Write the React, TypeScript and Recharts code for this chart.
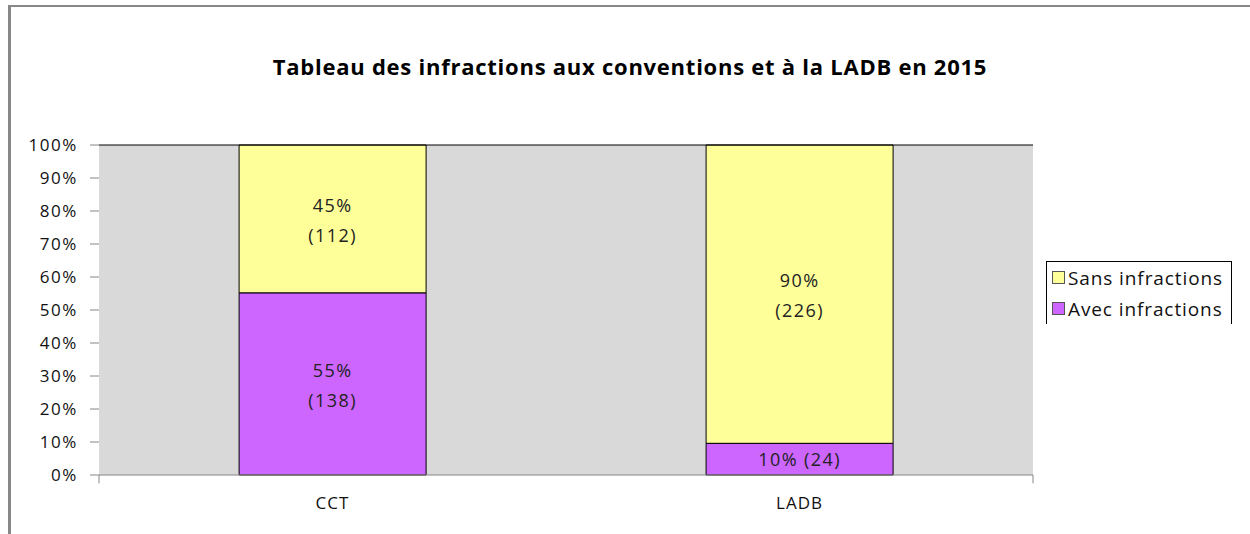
import React from "react";
import {
  BarChart,
  Bar,
  XAxis,
  YAxis,
  ReferenceArea,
  ReferenceLine,
  LabelList,
  Legend,
} from "recharts";

const title = "Tableau des infractions aux conventions et à la LADB en 2015";
const categories = ["CCT", "LADB"];
const avecInfractions = [138, 24];
const sansInfractions = [112, 226];
const yTicks = [0, 0.1, 0.2, 0.3, 0.4, 0.5, 0.6, 0.7, 0.8, 0.9, 1];
const boundaryTicks = [0, 1, 2];
const seriesNames = { sans: "Sans infractions", avec: "Avec infractions" };

const COLORS = { sans: "#FFFF99", avec: "#CC66FF", plot: "#D9D9D9", axis: "#868686" };
const FONT = "'Open Sans', sans-serif";

const data = categories.map((name, i) => ({
  name,
  avec: avecInfractions[i],
  sans: sansInfractions[i],
}));

const makeLabel = (values: number[]) => (props: any) => {
  const { x, y, width, height, index } = props;
  const v = values[index];
  const total = avecInfractions[index] + sansInfractions[index];
  const pct = Math.round((v / total) * 100);
  const cx = x + width / 2;
  const cy = y + height / 2;
  const style = { fontFamily: FONT, fontSize: 18, fill: "#222", letterSpacing: 1.4 };
  if (height < 40) {
    return (
      <text x={cx} y={cy} textAnchor="middle" dominantBaseline="central" style={style}>
        {`${pct}% (${v})`}
      </text>
    );
  }
  return (
    <g>
      <text x={cx} y={cy - 14} textAnchor="middle" dominantBaseline="central" style={style}>
        {`${pct}%`}
      </text>
      <text x={cx} y={cy + 16} textAnchor="middle" dominantBaseline="central" style={style}>
        {`(${v})`}
      </text>
    </g>
  );
};

const renderLegend = () => {
  const items = [
    { key: "sans", color: COLORS.sans },
    { key: "avec", color: COLORS.avec },
  ];
  return (
    <div
      style={{
        borderLeft: "1px solid #000",
        borderTop: "1px solid #000",
        borderRight: "1px solid #000",
        width: 186,
        height: 63,
        boxSizing: "border-box",
        paddingTop: 0,
        paddingLeft: 5,
        fontFamily: FONT,
        fontSize: 19,
        letterSpacing: 0.9,
        color: "#111",
        whiteSpace: "nowrap",
        overflow: "hidden",
      }}
    >
      {items.map((it) => (
        <div key={it.key} style={{ display: "flex", alignItems: "center", height: 31 }}>
          <span
            style={{
              display: "inline-block",
              width: 11,
              height: 11,
              background: it.color,
              border: "1px solid #555",
              marginRight: 3,
              flex: "none",
            }}
          />
          <span>{(seriesNames as any)[it.key]}</span>
        </div>
      ))}
    </div>
  );
};

export default function App() {
  return (
    <div style={{ position: "absolute", left: 0, top: 0, width: 1250, height: 534, background: "#fff" }}>
      <div
        style={{
          position: "absolute",
          left: 8,
          top: 5,
          width: 1242,
          height: 529,
          borderLeft: "3px solid #888",
          borderTop: "2px solid #888",
          boxSizing: "border-box",
        }}
      />
      <div
        style={{
          position: "absolute",
          left: 0,
          width: 1260,
          top: 51,
          textAlign: "center",
          fontFamily: FONT,
          fontWeight: 700,
          fontSize: 22,
          letterSpacing: 0.75,
          color: "#000",
        }}
      >
        {title}
      </div>
      <div style={{ position: "absolute", left: 0, top: 0 }}>
        <BarChart
          width={1250}
          height={534}
          data={data}
          stackOffset="expand"
          barCategoryGap="30%"
          margin={{ top: 145, right: 217, bottom: 0, left: 0 }}
        >
          <XAxis
            xAxisId="a"
            dataKey="name"
            height={59}
            axisLine={{ stroke: COLORS.axis }}
            tickLine={false}
            tickSize={0}
            tickMargin={22}
            tick={{ fontFamily: FONT, fontSize: 17, fill: "#111", letterSpacing: 1 }}
          />
          <XAxis
            xAxisId="b"
            type="number"
            domain={[0, 2]}
            allowDataOverflow
            hide
            height={0}
          />
          <YAxis
            yAxisId="l"
            domain={[0, 1]}
            ticks={yTicks}
            width={99}
            tickFormatter={(v: number) => `${Math.round(v * 100)}%`}
            axisLine={false}
            tickLine={{ stroke: COLORS.axis }}
            tickSize={9}
            tickMargin={12}
            tick={{ fontFamily: FONT, fontSize: 17, fill: "#111", letterSpacing: 1.6 }}
          />
          <YAxis
            yAxisId="r"
            orientation="right"
            width={0}
            domain={[0, 1]}
            tick={false}
            tickLine={false}
            axisLine={{ stroke: "#000" }}
          />
          <ReferenceArea
            xAxisId="a"
            yAxisId="l"
            y1={0}
            y2={1}
            fill={COLORS.plot}
            fillOpacity={1}
            stroke="none"
          />
          <ReferenceLine xAxisId="a" yAxisId="l" y={1} stroke="#000" />
          {boundaryTicks.map((t) => (
            <ReferenceLine
              key={t}
              xAxisId="b"
              yAxisId="l"
              ifOverflow="visible"
              segment={[
                { x: t, y: 0 },
                { x: t, y: -0.025 },
              ]}
              stroke={COLORS.axis}
            />
          ))}
          <Legend
            layout="vertical"
            align="center"
            verticalAlign="middle"
            content={renderLegend}
            wrapperStyle={{ position: "absolute", left: 1046, top: 261, width: 186 }}
          />
          <Bar
            xAxisId="a"
            yAxisId="l"
            dataKey="avec"
            name={seriesNames.avec}
            stackId="s"
            fill={COLORS.avec}
            stroke="#000"
            strokeWidth={1}
            isAnimationActive={false}
          >
            <LabelList content={makeLabel(avecInfractions)} />
          </Bar>
          <Bar
            xAxisId="a"
            yAxisId="l"
            dataKey="sans"
            name={seriesNames.sans}
            stackId="s"
            fill={COLORS.sans}
            stroke="#000"
            strokeWidth={1}
            isAnimationActive={false}
          >
            <LabelList content={makeLabel(sansInfractions)} />
          </Bar>
        </BarChart>
      </div>
    </div>
  );
}
